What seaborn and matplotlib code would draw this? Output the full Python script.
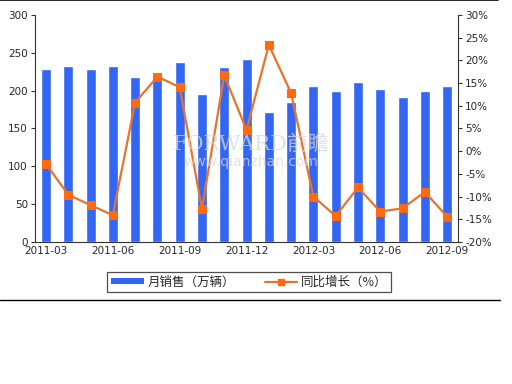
import matplotlib
matplotlib.use("Agg")
import matplotlib.pyplot as plt
import seaborn as sns
import numpy as np
import pandas as pd
from matplotlib.lines import Line2D
from matplotlib.patches import Patch
from matplotlib.ticker import FuncFormatter, MultipleLocator, FixedLocator

# monthly data 2011-03 .. 2012-09
months = ["2011-03", "2011-04", "2011-05", "2011-06", "2011-07", "2011-08",
          "2011-09", "2011-10", "2011-11", "2011-12", "2012-01", "2012-02",
          "2012-03", "2012-04", "2012-05", "2012-06", "2012-07", "2012-08",
          "2012-09"]
sales = [229, 232, 229, 232, 218, 220, 238, 196, 231, 242, 172, 185,
         206, 199, 212, 202, 192, 199, 206]
growth = [-2.8, -9.6, -11.9, -14.1, 10.7, 16.4, 14.1, -12.7, 16.7, 4.7,
          23.4, 12.8, -10.0, -14.3, -8.0, -13.3, -12.6, -9.0, -14.4]
shown_labels = ["2011-03", "2011-06", "2011-09", "2011-12", "2012-03", "2012-06", "2012-09"]

bar_label = "月销售（万辆）"
line_label = "同比增长（%）"

BAR_COLOR = "#3366f2"
LINE_COLOR = "#e8732c"
MARK_COLOR = "#ff6a10"

sns.set_style("white")
plt.rcParams["font.family"] = ["DejaVu Sans", "Noto Sans CJK SC"]
plt.rcParams["axes.unicode_minus"] = False

df = pd.DataFrame({"month": months, "sales": sales, "growth": growth})

fig = plt.figure(figsize=(5.12, 3.84), dpi=100)
ax = fig.add_axes([0.068, 0.370, 0.827, 0.591])

sns.barplot(data=df, x="month", y="sales", color=BAR_COLOR, width=0.45,
            saturation=1, ax=ax)
ax.set_xlim(-0.5, len(months) - 0.5)
ax.set_ylim(0, 300)
ax.yaxis.set_major_locator(MultipleLocator(50))
ax.set_xlabel("")
ax.set_ylabel("")

# tick labels at every third month, tick marks at group boundaries
ax.set_xticks([months.index(m) for m in shown_labels])
ax.set_xticklabels(shown_labels, fontsize=7.5)
ax.tick_params(axis="x", length=0, pad=3)
ax.xaxis.set_minor_locator(FixedLocator([i + 0.5 for i in range(2, len(months) - 1, 3)]))
ax.tick_params(axis="x", which="minor", length=4, width=0.8, color="#333333", direction="out")
ax.tick_params(axis="y", labelsize=7.5, length=3, width=0.8, color="#333333", left=True, pad=2)

for side in ["top", "right"]:
    ax.spines[side].set_visible(False)
for side in ["left", "bottom"]:
    ax.spines[side].set_color("#333333")
    ax.spines[side].set_linewidth(0.8)

ax2 = ax.twinx()
sns.lineplot(data=df, x="month", y="growth", color=LINE_COLOR, lw=1.6,
             marker="s", markersize=5.5, markerfacecolor=MARK_COLOR,
             markeredgecolor=MARK_COLOR, sort=False, ax=ax2)
ax2.set_ylim(-20, 30)
ax2.yaxis.set_major_locator(MultipleLocator(5))
ax2.yaxis.set_major_formatter(FuncFormatter(lambda v, p: f"{v:.0f}%"))
ax2.tick_params(axis="y", labelsize=7.5, length=3, width=0.8, color="#333333", right=True, pad=2)
ax2.set_xlabel("")
ax2.set_ylabel("")
for side in ["top", "left", "bottom"]:
    ax2.spines[side].set_visible(False)
ax2.spines["right"].set_color("#333333")
ax2.spines["right"].set_linewidth(0.8)

# watermark
fig.text(0.49, 0.625, "FORWARD前瞻", fontsize=15, color="#d8d8d8", alpha=0.75,
         ha="center", va="center", family=["DejaVu Serif", "Noto Sans CJK SC"], zorder=10)
fig.text(0.49, 0.578, "www.qianzhan.com", fontsize=10, color="#d8d8d8", alpha=0.75,
         ha="center", va="center", zorder=10)

handles = [Patch(facecolor=BAR_COLOR, edgecolor="none"),
           Line2D([0], [0], color=LINE_COLOR, lw=1.6, marker="s", markersize=5,
                  markerfacecolor=MARK_COLOR, markeredgecolor=MARK_COLOR)]
leg = fig.legend(handles, [bar_label, line_label], loc="center",
                 bbox_to_anchor=(0.487, 0.265), ncol=2,
                 frameon=True, fancybox=False, edgecolor="#222222",
                 handlelength=2.6, handleheight=0.35, handletextpad=0.3,
                 columnspacing=2.4, borderpad=0.3,
                 prop={"family": ["Noto Sans CJK SC"], "size": 9})
leg.get_frame().set_linewidth(0.9)

# frame lines of the original image
fig.add_artist(Line2D([0, 0.973], [0.999, 0.999], color="black", lw=1.2, transform=fig.transFigure))
fig.add_artist(Line2D([0, 0.977], [0.219, 0.219], color="black", lw=1.0, transform=fig.transFigure))

fig.savefig("out.png", dpi=100)
